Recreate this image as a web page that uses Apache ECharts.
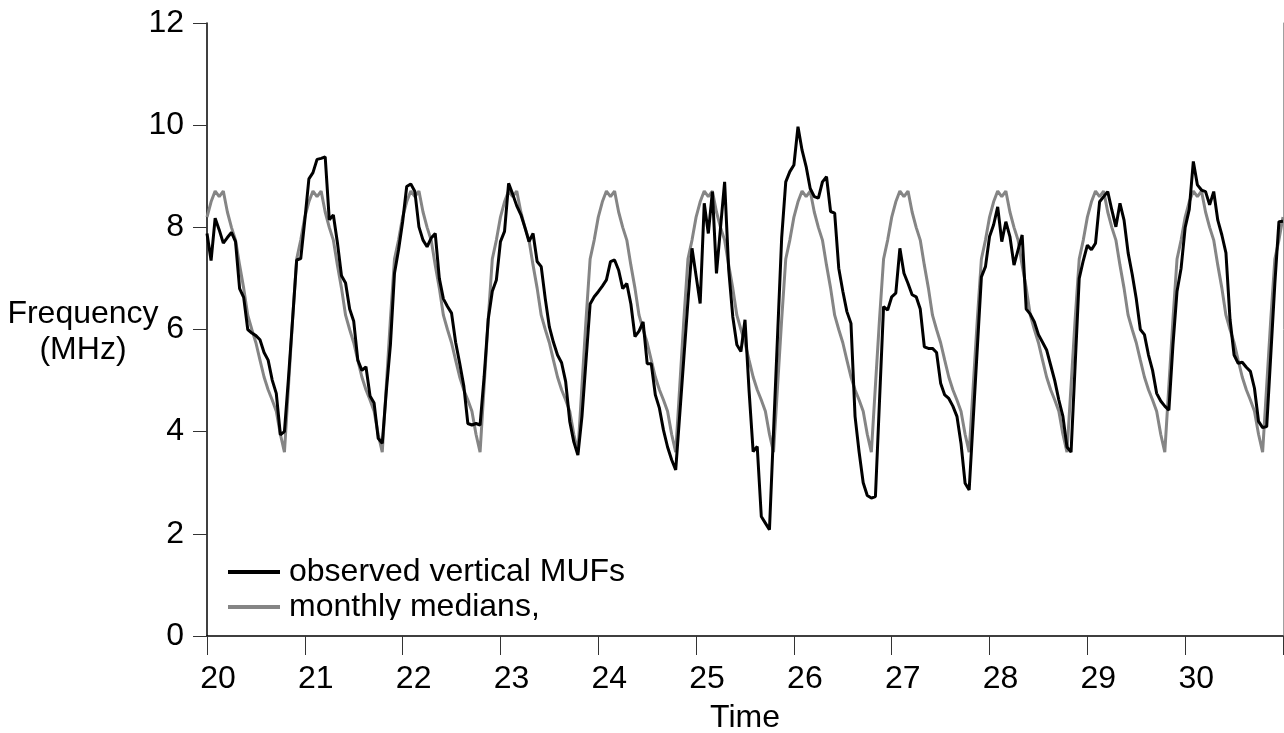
<!DOCTYPE html>
<html>
<head>
<meta charset="utf-8">
<script src="https://cdn.jsdelivr.net/npm/echarts@6/dist/echarts.min.js"></script>
<style>
html,body{margin:0;padding:0;background:#fff;overflow:hidden;}
#chart{width:1284px;height:733px;}
</style>
</head>
<body>
<div id="chart"></div>
<script>
// Hourly monthly-median profile (MHz), hour 0..23 of each day
const medianByHour = [8.2, 8.5, 8.71, 8.6, 8.71, 8.3, 8.0, 7.75, 7.26, 6.81, 6.28, 6.0,
                      5.74, 5.4, 5.07, 4.82, 4.62, 4.4, 3.95, 3.6, 4.9, 6.2, 7.38, 7.75];

// Observed vertical MUFs (MHz), hourly, one array per day
const obsDay20 = [7.88, 7.35, 8.18, 7.95, 7.69, 7.8, 7.9, 7.72, 6.8, 6.63, 6.0, 5.93, 5.88, 5.8, 5.55, 5.4, 5.01, 4.75, 3.94, 4.0, 5.06, 6.2, 7.36, 7.39];
const obsDay21 = [8.14, 8.95, 9.07, 9.33, 9.35, 9.38, 8.15, 8.24, 7.7, 7.05, 6.91, 6.4, 6.16, 5.4, 5.2, 5.27, 4.7, 4.56, 3.87, 3.77, 4.8, 5.7, 7.1, 7.56];
const obsDay22 = [8.11, 8.8, 8.85, 8.7, 8.01, 7.75, 7.62, 7.79, 7.88, 7.0, 6.6, 6.45, 6.32, 5.75, 5.34, 4.9, 4.16, 4.13, 4.16, 4.13, 5.08, 6.2, 6.75, 6.97];
const obsDay23 = [7.72, 7.92, 8.86, 8.65, 8.42, 8.25, 8.0, 7.72, 7.88, 7.33, 7.23, 6.6, 6.05, 5.75, 5.5, 5.35, 4.98, 4.2, 3.8, 3.54, 4.3, 5.4, 6.5, 6.64];
const obsDay24 = [6.74, 6.85, 6.97, 7.33, 7.36, 7.16, 6.8, 6.9, 6.5, 5.86, 5.97, 6.15, 5.33, 5.33, 4.72, 4.46, 4.03, 3.7, 3.45, 3.25, 4.35, 5.45, 6.55, 7.59];
const obsDay25 = [7.05, 6.51, 8.47, 7.88, 8.7, 7.1, 8.0, 8.89, 7.17, 6.25, 5.7, 5.57, 6.19, 4.8, 3.61, 3.71, 2.34, 2.21, 2.08, 4.0, 5.9, 7.8, 8.89, 9.09];
const obsDay26 = [9.22, 9.97, 9.51, 9.19, 8.76, 8.6, 8.57, 8.89, 8.99, 8.31, 8.28, 7.2, 6.75, 6.35, 6.12, 4.3, 3.6, 3.0, 2.75, 2.7, 2.73, 4.6, 6.45, 6.38];
const obsDay27 = [6.64, 6.71, 7.59, 7.1, 6.9, 6.68, 6.64, 6.4, 5.66, 5.63, 5.63, 5.55, 4.95, 4.72, 4.65, 4.5, 4.3, 3.77, 2.99, 2.86, 4.25, 5.64, 7.03, 7.23];
const obsDay28 = [7.82, 8.05, 8.4, 7.72, 8.11, 7.82, 7.26, 7.56, 7.85, 6.4, 6.3, 6.15, 5.9, 5.75, 5.6, 5.3, 5.0, 4.62, 4.3, 3.7, 3.6, 5.3, 7.0, 7.35];
const obsDay29 = [7.65, 7.56, 7.69, 8.5, 8.6, 8.7, 8.34, 8.01, 8.47, 8.14, 7.5, 7.08, 6.6, 6.0, 5.9, 5.5, 5.2, 4.75, 4.6, 4.5, 4.42, 5.7, 6.75, 7.2];
const obsDay30 = [8.0, 8.35, 9.29, 8.83, 8.73, 8.7, 8.44, 8.7, 8.14, 7.85, 7.5, 6.2, 5.5, 5.34, 5.36, 5.26, 5.18, 4.85, 4.2, 4.08, 4.1, 5.5, 6.9, 8.11];
const obsDay31 = [8.12];

const firstDay = 20;
const xTickDays = [20, 21, 22, 23, 24, 25, 26, 27, 28, 29, 30];
const yTicks = [0, 2, 4, 6, 8, 10, 12];

const observedDays = [obsDay20, obsDay21, obsDay22, obsDay23, obsDay24, obsDay25,
                      obsDay26, obsDay27, obsDay28, obsDay29, obsDay30, obsDay31];

const observedData = [];
const medianData = [];
observedDays.forEach(function (dayVals, d) {
  dayVals.forEach(function (v, h) {
    const t = firstDay + d + h / 24;
    observedData.push([t, v]);
    medianData.push([t, medianByHour[h]]);
  });
});

const FONT = 'Liberation Sans, Arial, sans-serif';
const chart = echarts.init(document.getElementById('chart'), null, {renderer: 'canvas'});

const option = {
  animation: false,
  backgroundColor: '#ffffff',
  textStyle: {fontFamily: FONT},
  grid: {left: 207, right: 1, top: 23, bottom: 97, containLabel: false, outerBoundsMode: 'none'},
  xAxis: {
    type: 'value',
    min: xTickDays[0],
    max: 31,
    interval: 1,
    axisLine: {show: true, lineStyle: {color: '#000', width: 1.5}},
    axisTick: {show: true, length: 19, lineStyle: {color: '#333', width: 1}},
    axisLabel: {
      show: true, color: '#000', fontSize: 32, fontFamily: FONT, margin: 27,
      padding: [0, 0, 0, 22],
      formatter: function (v) { return xTickDays.indexOf(v) >= 0 ? String(v) : ''; }
    },
    splitLine: {show: false},
    name: 'Time',
    nameLocation: 'middle',
    nameGap: 66,
    nameTextStyle: {color: '#000', fontSize: 32, fontFamily: FONT}
  },
  yAxis: [{
    type: 'value',
    min: yTicks[0],
    max: yTicks[yTicks.length - 1],
    interval: 2,
    axisLine: {show: true, lineStyle: {color: '#000', width: 1.5}},
    axisTick: {show: true, length: 14, lineStyle: {color: '#333', width: 1}},
    axisLabel: {show: true, color: '#000', fontSize: 32, fontFamily: FONT, margin: 23},
    splitLine: {show: false}
  }, {
    type: 'value',
    position: 'right',
    min: 0, max: 12, interval: 2,
    axisLine: {show: true, lineStyle: {color: '#a0a0a0', width: 1}},
    axisTick: {show: false},
    axisLabel: {show: false},
    splitLine: {show: false}
  }],
  legend: {
    orient: 'vertical',
    left: 228,
    top: 556,
    padding: 0,
    itemGap: 3,
    itemWidth: 52,
    itemHeight: 4,
    icon: 'rect',
    data: ['observed vertical MUFs', 'monthly medians,'],
    textStyle: {color: '#000', fontSize: 32, fontFamily: FONT, padding: [0, 0, 0, 4]}
  },
  graphic: [
    {type: 'text', x: 83, y: 314, z: 50,
     style: {text: 'Frequency', fill: '#000', font: '32px ' + FONT, textAlign: 'center', textVerticalAlign: 'middle'}},
    {type: 'text', x: 83, y: 350, z: 50,
     style: {text: '(MHz)', fill: '#000', font: '32px ' + FONT, textAlign: 'center', textVerticalAlign: 'middle'}},
    {type: 'rect', z: 100, shape: {x: 283, y: 620, width: 280, height: 13}, style: {fill: '#ffffff'}}
  ],
  series: [{
    name: 'monthly medians,',
    type: 'line',
    data: medianData,
    symbol: 'none',
    z: 2,
    lineStyle: {color: '#858585', width: 3},
    itemStyle: {color: '#858585'}
  }, {
    name: 'observed vertical MUFs',
    type: 'line',
    data: observedData,
    symbol: 'none',
    z: 3,
    lineStyle: {color: '#000000', width: 3},
    itemStyle: {color: '#000000'}
  }]
};
chart.setOption(option);
</script>
</body>
</html>
